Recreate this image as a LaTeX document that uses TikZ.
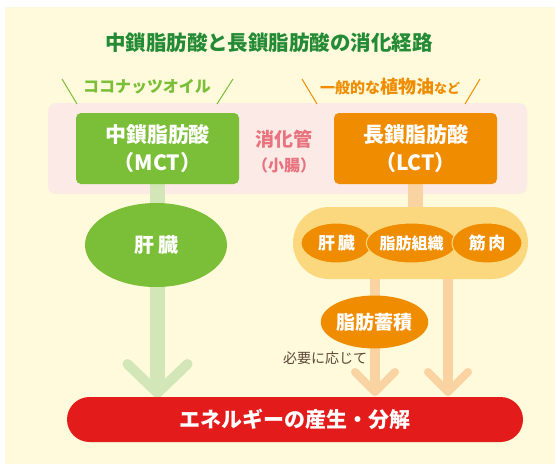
\documentclass[tikz,border=0pt]{standalone}
\usepackage{fontspec}
\setmainfont{Noto Sans CJK JP}
\usetikzlibrary{calc,shapes.geometric}
\definecolor{cream}{HTML}{FEFADB}
\definecolor{titlegreen}{HTML}{238A35}
\definecolor{lgreen}{HTML}{7BBE37}
\definecolor{gshaft}{HTML}{D3E6B7}
\definecolor{orng}{HTML}{F08C00}
\definecolor{oshaft}{HTML}{FAD3A3}
\definecolor{pillc}{HTML}{FBD87E}
\definecolor{pinkband}{HTML}{FCEAE6}
\definecolor{pinktext}{HTML}{E8737E}
\definecolor{redbar}{HTML}{E31B1B}
\definecolor{brown}{HTML}{5A4636}
\pgfdeclarelayer{back}
\pgfdeclarelayer{mid}
\pgfsetlayers{back,mid,main}
\newcommand{\fs}[1]{\fontsize{#1}{#1}\selectfont}
\tikzset{
  txt/.style={inner sep=0pt, font=\bfseries},
  srcbox/.style={rounded corners=5pt, minimum width=163pt, minimum height=71pt, inner sep=0pt,
     text=white, align=center, font=\bfseries\fontsize{21}{28}\selectfont},
  organ/.style={ellipse, fill=orng, draw=pillc, line width=1pt, inner sep=0pt, text=white,
     minimum height=40pt, font=\bfseries\fs{16}},
  gline/.style={draw=gshaft, line width=15pt},
  oline/.style={draw=oshaft, line width=15pt},
  othin/.style={draw=oshaft, line width=10pt},
  gchev/.style={draw=gshaft, line width=10pt, line cap=round, line join=round},
  ochev/.style={draw=oshaft, line width=8pt, line cap=round, line join=round},
  gslash/.style={draw=lgreen, line width=1pt},
  oslash/.style={draw=orng, line width=1pt},
}
\begin{document}
\begin{tikzpicture}[x=1pt,y=-1pt]
\useasboundingbox (0,0) rectangle (555,464);

% title and sources
\node[txt, text=titlegreen, font=\bfseries\fs{20.5}] (title) at (269,43) {中鎖脂肪酸と長鎖脂肪酸の消化経路};
\node[txt, text=lgreen, font=\bfseries\fs{16}] (coco) at (147,87) {ココナッツオイル};
\node[txt, text=orng] (veg) at (390,87) {{\fs{15}一般的な}{\fs{18}植物油}{\fs{13}など}};

% digestive tract band
\node[srcbox, fill=lgreen] (mct) at (157.5,148.5) {中鎖脂肪酸\\（MCT）};
\node[srcbox, fill=orng] (lct) at (415.5,148.5) {長鎖脂肪酸\\（LCT）};
\node[txt, text=pinktext, align=center, font=\bfseries\fontsize{19}{25}\selectfont] (gut) at (284,152)
  {消化管\\{\fs{16}（小腸）}};

% liver (MCT)
\node[ellipse, fill=lgreen, minimum width=142pt, minimum height=84pt, inner sep=0pt,
      text=white, font=\bfseries\fs{20}] (liverG) at (156,245) {肝\hspace{4pt}臓};

% LCT tissues
\node[rounded corners=36pt, fill=pillc, minimum width=235pt, minimum height=72pt, inner sep=0pt] (pill) at (410.5,243) {};
\node[organ, minimum width=71pt, font=\bfseries\fs{17}] (liverO) at (336.5,243) {肝\hspace{3pt}臓};
\node[organ, minimum width=81pt] (adipose) at (411.5,243) {脂肪組織};
\node[organ, minimum width=70pt, font=\bfseries\fs{17}] (muscle) at (487,243) {筋\hspace{3pt}肉};
\node[ellipse, fill=orng, minimum width=102pt, minimum height=53pt, inner sep=0pt,
      text=white, font=\bfseries\fs{19}] (store) at (374.5,322) {脂肪蓄積};
\node[txt, text=brown, font=\fs{14}] (need) at (325,358) {必要に応じて};

% energy bar
\node[rounded corners=22.5pt, fill=redbar, minimum width=456pt, minimum height=45pt, inner sep=0pt,
      text=white, font=\bfseries\fs{21}] (energy) at (295,419.5) {エネルギーの産生・分解};

\coordinate (tipG) at (157.5,393);
\coordinate (tipL) at (375,392);
\coordinate (tipR) at (448,392);

\begin{pgfonlayer}{back}
  \fill[cream] (5,7) rectangle (555,464);
  \fill[pinkband, rounded corners=8pt] (48,103) rectangle (527,194);
\end{pgfonlayer}

\begin{pgfonlayer}{mid}
  \draw[gline] (mct.south) -- ($(tipG)+(0,-6)$);
  \draw[gchev] ($(tipG)+(-30,-29)$) -- (tipG) -- ($(tipG)+(30,-29)$);
  \draw[oline] (lct.south) -- (pill.north -| lct.south);
  \draw[othin] (pill.south -| tipL) -- ($(tipL)+(0,-5)$);
  \draw[othin] (pill.south -| tipR) -- ($(tipR)+(0,-5)$);
  \draw[ochev] ($(tipL)+(-20,-20)$) -- (tipL) -- ($(tipL)+(20,-20)$);
  \draw[ochev] ($(tipR)+(-20,-20)$) -- (tipR) -- ($(tipR)+(20,-20)$);
\end{pgfonlayer}

% slashes around source labels
\draw[gslash] (62,79) -- (77,104);
\draw[gslash] (233,79) -- (217,104);
\draw[oslash] (302,79) -- (317,104);
\draw[oslash] (480,79) -- (465,104);
\end{tikzpicture}
\end{document}
